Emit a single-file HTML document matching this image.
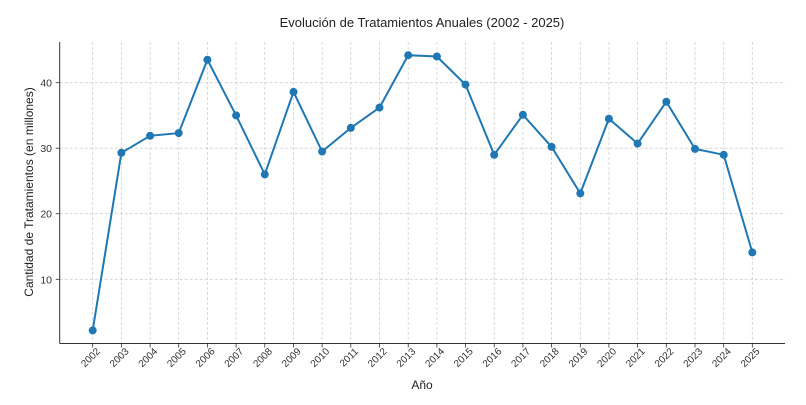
<!DOCTYPE html>
<html><head><meta charset="utf-8"><style>
html,body{margin:0;padding:0;background:#fff;}
svg{display:block;font-family:"Liberation Sans",sans-serif;}
</style></head><body>
<svg id="c" width="806" height="405" xmlns="http://www.w3.org/2000/svg"></svg>
<script>
const vals=[2.2,29.3,31.9,32.3,43.5,35.0,26.0,38.6,29.5,33.1,36.2,44.2,44.0,39.7,29.0,35.1,30.2,23.1,34.5,30.7,37.1,29.9,29.0,14.1];
const X=i=>92.7+i*28.68, Y=v=>344.8-v*6.553;
let s='';
for(let i=0;i<24;i++){const x=X(i).toFixed(1);
 s+=`<line x1="${x}" y1="42" x2="${x}" y2="343.5" stroke="#d0d0d0" stroke-width="0.8" stroke-dasharray="3,2"/>`;
 s+=`<line x1="${x}" y1="343.5" x2="${x}" y2="347.5" stroke="#333" stroke-width="0.8"/>`;
 s+=`<text transform="translate(${(+x+8).toFixed(1)},352) rotate(-45)" text-anchor="end" font-size="10" fill="#333">${2002+i}</text>`;}
for(const t of [10,20,30,40]){const y=Y(t).toFixed(1);
 s+=`<line x1="59.7" y1="${y}" x2="785" y2="${y}" stroke="#d0d0d0" stroke-width="0.8" stroke-dasharray="3,2"/>`;
 s+=`<line x1="55.7" y1="${y}" x2="59.7" y2="${y}" stroke="#333" stroke-width="0.8"/>`;
 s+=`<text x="52" y="${(+y+4).toFixed(1)}" text-anchor="end" font-size="10.5" fill="#333">${t}</text>`;}
s+=`<line x1="59.7" y1="42" x2="59.7" y2="343.5" stroke="#333" stroke-width="1"/>`;
s+=`<line x1="59.7" y1="343.5" x2="785" y2="343.5" stroke="#333" stroke-width="1"/>`;
s+=`<polyline fill="none" stroke="#1f77b4" stroke-width="2" points="${vals.map((v,i)=>X(i).toFixed(1)+','+Y(v).toFixed(1)).join(' ')}"/>`;
vals.forEach((v,i)=>{s+=`<circle cx="${X(i).toFixed(1)}" cy="${Y(v).toFixed(1)}" r="4" fill="#1f77b4"/>`;});
s+=`<text x="422" y="27" text-anchor="middle" font-size="13" fill="#222">Evolución de Tratamientos Anuales (2002 - 2025)</text>`;
s+=`<text x="422" y="389" text-anchor="middle" font-size="12" fill="#222">Año</text>`;
s+=`<text transform="translate(33,192) rotate(-90)" text-anchor="middle" font-size="12" fill="#222">Cantidad de Tratamientos (en millones)</text>`;
document.getElementById('c').innerHTML=s;
</script>
</body></html>
